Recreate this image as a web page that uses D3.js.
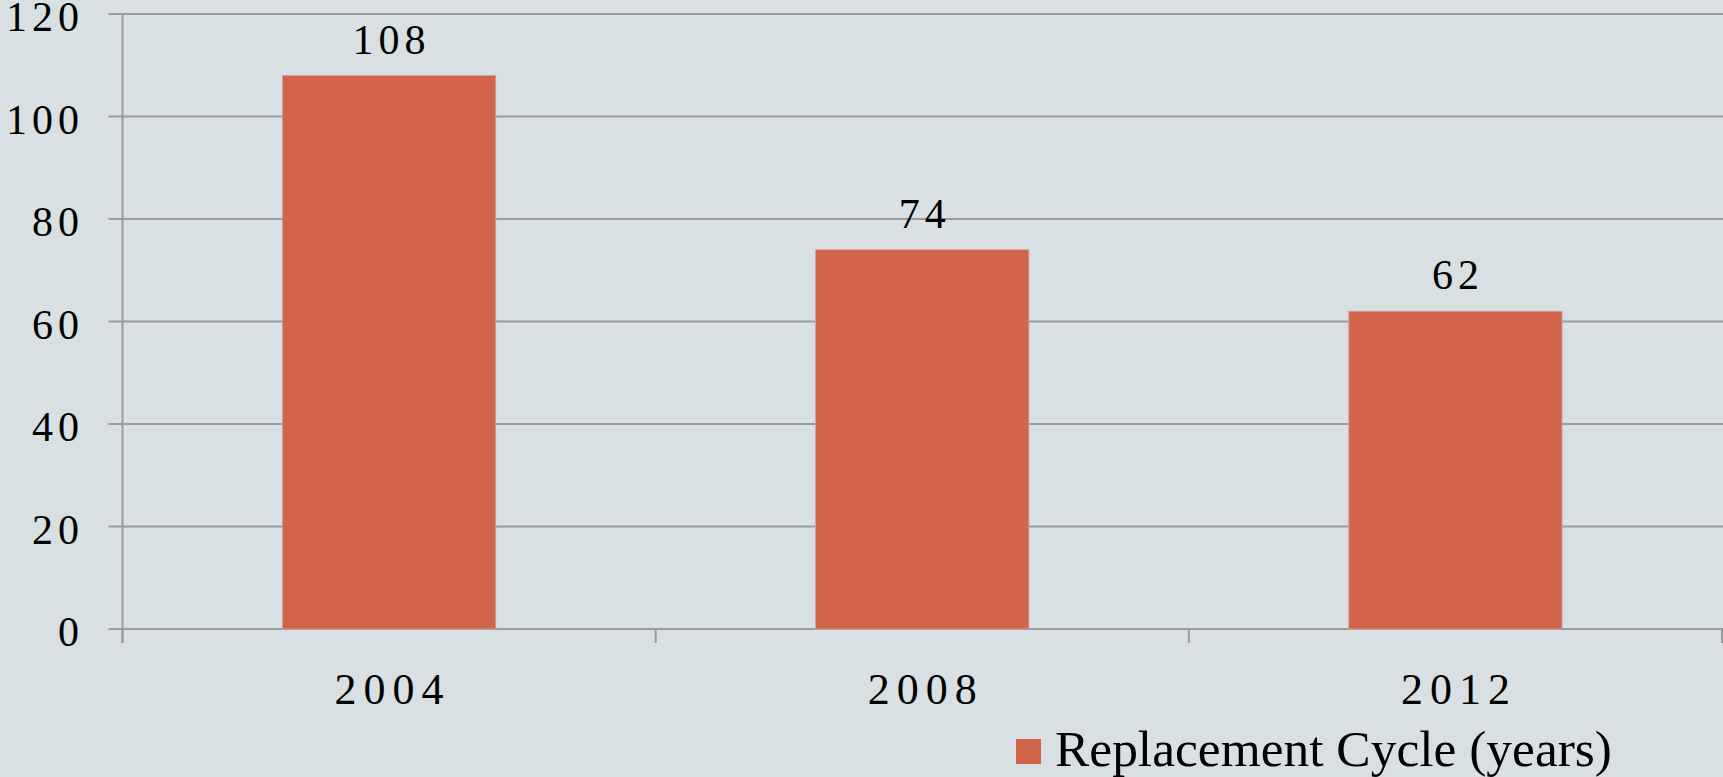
<!DOCTYPE html>
<meta charset="utf-8">
<style>
body { margin: 0; background: #d9e0e3; }
.grid line { stroke: #9b9b9b; stroke-width: 2px; }
</style>
<body>
<script src="https://d3js.org/d3.v7.min.js"></script>
<script>

// data
var years = ["2004", "2008", "2012"];
var cycle = [108, 74, 62];
var yTicks = [0, 20, 40, 60, 80, 100, 120];
var seriesName = "Replacement Cycle (years)";

var width = 1723, height = 777;
var margin = {top: 14, right: 1, bottom: 148, left: 122.5};
var font = "'Liberation Serif', 'Times New Roman', serif";

var svg = d3.select("body").append("svg")
    .attr("width", width)
    .attr("height", height)
    .style("display", "block");

svg.append("rect")
    .attr("width", width)
    .attr("height", height)
    .attr("fill", "#d9e0e3");

// scales
var x = d3.scaleBand()
    .domain(years)
    .range([margin.left, width - margin.right])
    .padding(0);

var y = d3.scaleLinear()
    .domain([0, 120])
    .range([height - margin.bottom, margin.top]);

// gridlines + y labels
var grid = svg.append("g").attr("class", "grid");
grid.selectAll("line")
    .data(yTicks)
  .enter().append("line")
    .attr("x1", margin.left - 14)
    .attr("x2", width)
    .attr("y1", function(d) { return y(d); })
    .attr("y2", function(d) { return y(d); });

svg.selectAll(".ylab")
    .data(yTicks)
  .enter().append("text")
    .attr("class", "ylab")
    .attr("x", 84)
    .attr("y", function(d) { return y(d) + 17; })
    .attr("text-anchor", "end")
    .attr("font-family", font)
    .attr("font-size", 42)
    .attr("letter-spacing", 5)
    .attr("fill", "#000")
    .text(function(d) { return d; });

// bars
var bw = x.bandwidth() * 0.4;
svg.selectAll(".bar")
    .data(cycle)
  .enter().append("rect")
    .attr("class", "bar")
    .attr("x", function(d, i) { return x(years[i]) + (x.bandwidth() - bw) / 2; })
    .attr("y", function(d) { return y(d); })
    .attr("width", bw)
    .attr("height", function(d) { return y(0) - y(d); })
    .attr("fill", "#d2644b")
    .attr("stroke", "#c9a59c")
    .attr("stroke-width", 0.8);

// value labels
svg.selectAll(".val")
    .data(cycle)
  .enter().append("text")
    .attr("class", "val")
    .attr("x", function(d, i) { return x(years[i]) + x.bandwidth() / 2 + 2.5; })
    .attr("y", function(d) { return y(d) - 22; })
    .attr("text-anchor", "middle")
    .attr("font-family", font)
    .attr("font-size", 42)
    .attr("letter-spacing", 5)
    .text(function(d) { return d; });

// axes lines
svg.append("line")
    .attr("x1", margin.left).attr("x2", margin.left)
    .attr("y1", margin.top).attr("y2", y(0) + 14)
    .attr("stroke", "#9b9b9b").attr("stroke-width", 2);

var bounds = years.map(function(d) { return x(d); }).concat([x(years[years.length - 1]) + x.bandwidth()]);
svg.selectAll(".xtick")
    .data(bounds)
  .enter().append("line")
    .attr("class", "xtick")
    .attr("x1", function(d) { return d; })
    .attr("x2", function(d) { return d; })
    .attr("y1", y(0))
    .attr("y2", y(0) + 14)
    .attr("stroke", "#9b9b9b")
    .attr("stroke-width", 2);

svg.selectAll(".xlab")
    .data(years)
  .enter().append("text")
    .attr("class", "xlab")
    .attr("x", function(d) { return x(d) + x.bandwidth() / 2 + 3.5; })
    .attr("y", y(0) + 75)
    .attr("text-anchor", "middle")
    .attr("font-family", font)
    .attr("font-size", 44)
    .attr("letter-spacing", 7)
    .text(function(d) { return d; });

// legend
svg.append("rect")
    .attr("x", 1016).attr("y", 739)
    .attr("width", 25).attr("height", 25)
    .attr("fill", "#d2644b");

svg.append("text")
    .attr("x", 1055)
    .attr("y", 766)
    .attr("font-family", font)
    .attr("font-size", 50)
    .attr("textLength", 557)
    .attr("lengthAdjust", "spacingAndGlyphs")
    .text(seriesName);

</script>
</body>
